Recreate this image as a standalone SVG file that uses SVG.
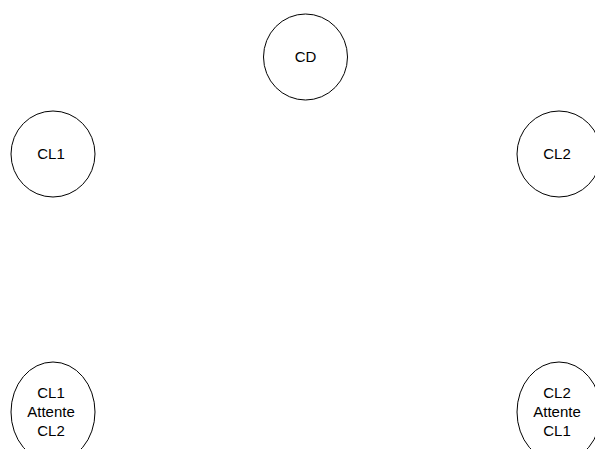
<svg xmlns="http://www.w3.org/2000/svg" width="595" height="449" viewBox="0 0 595 449">
<style>
.n{fill:#fff;stroke:#000;stroke-width:1}
.t{font-family:"Liberation Sans",Arial,sans-serif;font-size:15px;fill:#000;text-anchor:middle}
</style>
<rect width="595" height="449" fill="#fff"/>
<g id="connectors"></g>
<g id="CD"><ellipse class="n" cx="305.5" cy="57" rx="42" ry="43"/><text class="t" x="305.5" y="62">CD</text></g>
<g id="CL1"><ellipse class="n" cx="53" cy="154" rx="42" ry="43"/><text class="t" x="51" y="159">CL1</text></g>
<g id="CL2"><ellipse class="n" cx="559" cy="154" rx="42" ry="43"/><text class="t" x="557" y="159">CL2</text></g>
<g id="CL1_Attente_CL2"><ellipse class="n" cx="53" cy="412" rx="42" ry="50"/><text class="t" x="51" y="398">CL1</text><text class="t" x="51" y="417">Attente</text><text class="t" x="51" y="436">CL2</text></g>
<g id="CL2_Attente_CL1"><ellipse class="n" cx="559" cy="412" rx="42" ry="50"/><text class="t" x="557" y="398">CL2</text><text class="t" x="557" y="417">Attente</text><text class="t" x="557" y="436">CL1</text></g>
</svg>
